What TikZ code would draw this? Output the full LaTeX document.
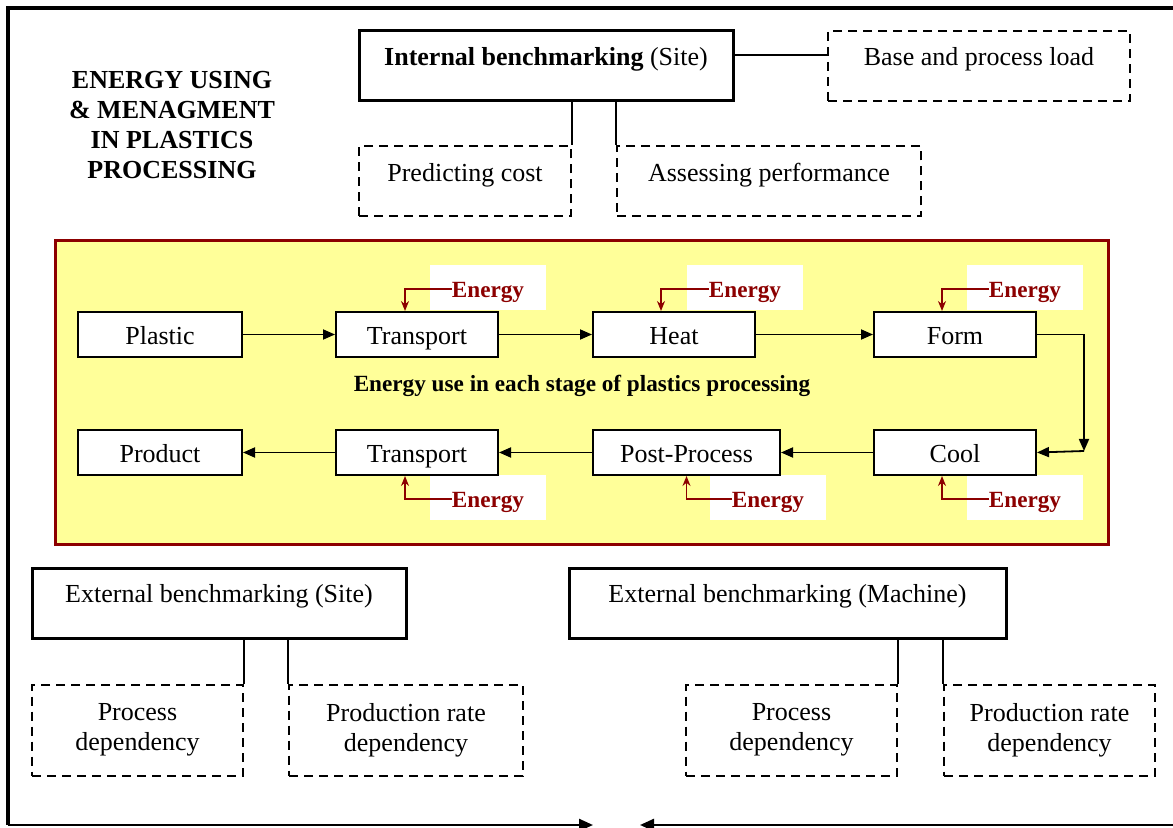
\documentclass[tikz,border=0pt]{standalone}
\usepackage{fontspec}
\setmainfont{Liberation Serif}
\definecolor{PanelYellow}{RGB}{255, 255, 153}
\definecolor{EnergyRed}{RGB}{140, 0, 0}
\usetikzlibrary{arrows.meta, positioning, calc}
\tikzset{
  txt/.style={font=\fontsize{13}{15}\selectfont},
  boldtxt/.style={font=\fontsize{13}{15}\selectfont\bfseries},
  smallbold/.style={font=\fontsize{11.6}{14}\selectfont\bfseries},
  bench/.style={draw, line width=1.5pt, minimum height=35pt, text height=8pt, text depth=8pt},
  aspect/.style={draw, line width=1pt, dash pattern=on 4.5pt off 3pt, minimum height=35pt, text height=8pt, text depth=8pt},
  depend/.style={draw, line width=1pt, dash pattern=on 4.5pt off 3pt, minimum height=45.5pt, align=center},
  stage/.style={draw, fill=white, line width=1pt, minimum height=22.5pt, inner sep=2pt, text height=13pt, text depth=2.5pt},
  energy/.style={smallbold, fill=white, minimum width=58pt, minimum height=22.5pt, inner sep=2pt, text height=13pt, text depth=2.5pt, text=EnergyRed},
  flow/.style={line width=0.9pt, -{Triangle[length=6pt, width=5pt]}},
  feed/.style={draw=EnergyRed, line width=0.7pt, -{Stealth[length=5pt, width=4pt]}},
  link/.style={line width=1pt}
}

\begin{document}
\begin{tikzpicture}[x=0.5pt, y=-0.5pt, txt]
\useasboundingbox (0,0) rectangle (1173,828);

% outer frame
\coordinate (frameTR) at (1173,8);
\coordinate (frameTL) at (8,8);
\coordinate (frameBL) at (8,825);
\coordinate (frameBR) at (1173,825);
\coordinate (meetL) at (593,825);
\coordinate (meetR) at (640,825);
\draw[line width=1.8pt] (frameTR) -- (frameTL) -- (frameBL);
\draw[line width=1.2pt, -{Triangle[length=7pt, width=6pt]}] (frameBL) -- (meetL);
\draw[line width=1.2pt, -{Triangle[length=7pt, width=6pt]}] (frameBR) -- (meetR);

% title and internal benchmarking
\node[boldtxt, align=center] (title) at (172,125) {ENERGY USING\\ \& MENAGMENT\\ IN PLASTICS\\ PROCESSING};
\node[bench, minimum width=187pt] (intb) at (546,65.5) {\textbf{Internal benchmarking} (Site)};
\node[aspect, minimum width=151pt] (base) at (979,66) {Base and process load};
\node[aspect, minimum width=106pt] (pred) at (465,181.5) {Predicting cost};
\node[aspect, minimum width=152pt] (asse) at (769,181.5) {Assessing performance};
\draw[link] ([yshift=5pt]intb.east) -- ([yshift=5pt]intb.east -| base.west);
\draw[link] (pred.north east |- intb.south) -- (pred.north east);
\draw[link] (asse.north west |- intb.south) -- (asse.north west);

% processing stages
\draw[draw=EnergyRed, fill=PanelYellow, line width=1.5pt] (55,241) rectangle (1108,545);
\foreach \n/\x/\y in {eA/488/287.5, eH/745/287.5, eF/1025/287.5, eB/488/497.5, eP/768/497.5, eC/1025/497.5}
  \node[energy] (\n) at (\x,\y) {Energy};

\node[stage, minimum width=82pt] (plastic) at (160,334.5) {Plastic};
\node[stage, minimum width=81pt] (trA) at (417,334.5) {Transport};
\node[stage, minimum width=81pt] (heat) at (674,334.5) {Heat};
\node[stage, minimum width=81pt] (form) at (955,334.5) {Form};
\node[stage, minimum width=82pt] (product) at (160,452.5) {Product};
\node[stage, minimum width=81pt] (trB) at (417,452.5) {Transport};
\node[stage, minimum width=93.5pt] (post) at (686.5,452.5) {Post-Process};
\node[stage, minimum width=81pt] (cool) at (955,452.5) {Cool};
\node[smallbold] (stagenote) at (582,386) {Energy use in each stage of plastics processing};

\coordinate (turn) at (1084,451);
\draw[flow] (plastic) -- (trA);
\draw[flow] (trA) -- (heat);
\draw[flow] (heat) -- (form);
\draw[flow] (form.east) -| (turn);
\draw[flow] (turn) -- (cool.east);
\draw[flow] (cool) -- (post);
\draw[flow] (post) -- (trB);
\draw[flow] (trB) -- (product);

\draw[feed] ([xshift=-18pt, yshift=-0.8pt]eA.center) -| ([xshift=35pt]trA.north west);
\draw[feed] ([xshift=-18pt, yshift=-0.8pt]eH.center) -| ([xshift=34.5pt]heat.north west);
\draw[feed] ([xshift=-18pt, yshift=-0.8pt]eF.center) -| ([xshift=34.5pt]form.north west);
\draw[feed] ([xshift=-18pt, yshift=-0.8pt]eB.center) -| ([xshift=35pt]trB.south west);
\draw[feed] ([xshift=-18pt, yshift=-0.8pt]eP.center) -| (post.south);
\draw[feed] ([xshift=-18pt, yshift=-0.8pt]eC.center) -| ([xshift=34.5pt]cool.south west);

% external benchmarking
\node[bench, minimum width=187pt] (extA) at (219,603) {External benchmarking (Site)};
\node[bench, minimum width=218.5pt] (extB) at (787.5,603) {External benchmarking (Machine)};
\node[depend, minimum width=105.5pt] (pdA) at (137.5,730) {Process\\ dependency};
\node[depend, minimum width=117pt] (prA) at (406,730) {Production rate\\ dependency};
\node[depend, minimum width=105.5pt] (pdB) at (791.5,730) {Process\\ dependency};
\node[depend, minimum width=105.5pt] (prB) at (1049.5,730) {Production rate\\ dependency};
\draw[link] (pdA.north east |- extA.south) -- (pdA.north east);
\draw[link] (prA.north west |- extA.south) -- (prA.north west);
\draw[link] (pdB.north east |- extB.south) -- (pdB.north east);
\draw[link] (prB.north west |- extB.south) -- (prB.north west);
\end{tikzpicture}
\end{document}
